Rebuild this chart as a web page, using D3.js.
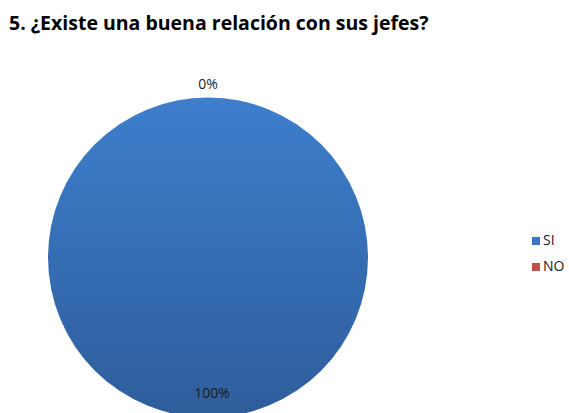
<!DOCTYPE html>
<html>
<head>
<meta charset="utf-8">
<script src="https://cdn.jsdelivr.net/npm/d3@7"></script>
<style>
  html, body { margin: 0; padding: 0; background: #fff; }
  svg { display: block; }
</style>
</head>
<body>
<svg id="chart" width="569" height="413"></svg>
<script>
const title = "5. ¿Existe una buena relación con sus jefes?";
const categories = ["SI", "NO"];
const values = [100, 0];
const labels = ["100%", "0%"];
const colors = ["#3b78c4", "#c0504d"];

const W = 569, H = 413;
const svg = d3.select("#chart");

const defs = svg.append("defs");
const grad = defs.append("linearGradient")
  .attr("id", "pieGrad").attr("x1", 0).attr("y1", 0).attr("x2", 0).attr("y2", 1);
grad.append("stop").attr("offset", "0%").attr("stop-color", "#3d7ecd");
grad.append("stop").attr("offset", "100%").attr("stop-color", "#2e5d9b");

svg.append("text")
  .attr("x", 9).attr("y", 30)
  .attr("font-family", "Open Sans, sans-serif")
  .attr("font-weight", "bold")
  .attr("font-size", 19.5)
  .attr("fill", "#000")
  .text(title);

const cx = 208, cy = 257.5, r = 160;
const g = svg.append("g").attr("transform", `translate(${cx},${cy})`);

const pie = d3.pie().sort(null).value(d => d.v);
const data = pie(categories.map((c, i) => ({ c, v: values[i], label: labels[i], color: colors[i] })));
const arc = d3.arc().innerRadius(0).outerRadius(r);

g.selectAll("path.slice").data(data).join("path")
  .attr("class", "slice")
  .attr("d", arc)
  .attr("fill", (d, i) => i === 0 ? "url(#pieGrad)" : d.data.color);

// Labels: the zero slice sits just above the pie, the full slice inside near the bottom
const labelR = r + 12;
g.selectAll("text.lbl").data(data).join("text")
  .attr("class", "lbl")
  .attr("x", d => {
    if (d.data.v === 0) return Math.sin(d.startAngle) * labelR;
    return 4;
  })
  .attr("y", d => {
    if (d.data.v === 0) return -Math.cos(d.startAngle) * labelR;
    return r - 23;
  })
  .attr("text-anchor", "middle")
  .attr("dominant-baseline", "middle")
  .attr("font-family", "Open Sans, sans-serif")
  .attr("font-size", 14)
  .attr("fill", "#1a1a1a")
  .text(d => d.data.label);

// Legend
const legend = svg.append("g").attr("transform", "translate(532,241)");
const item = legend.selectAll("g").data(categories).join("g")
  .attr("transform", (d, i) => `translate(0,${i * 26})`);
item.append("rect")
  .attr("x", 0).attr("y", -4).attr("width", 8).attr("height", 8)
  .attr("fill", (d, i) => colors[i]);
item.append("text")
  .attr("x", 11).attr("y", 0)
  .attr("dominant-baseline", "middle")
  .attr("font-family", "Open Sans, sans-serif")
  .attr("font-size", 14)
  .attr("fill", "#1a1a1a")
  .text(d => d);
</script>
</body>
</html>
